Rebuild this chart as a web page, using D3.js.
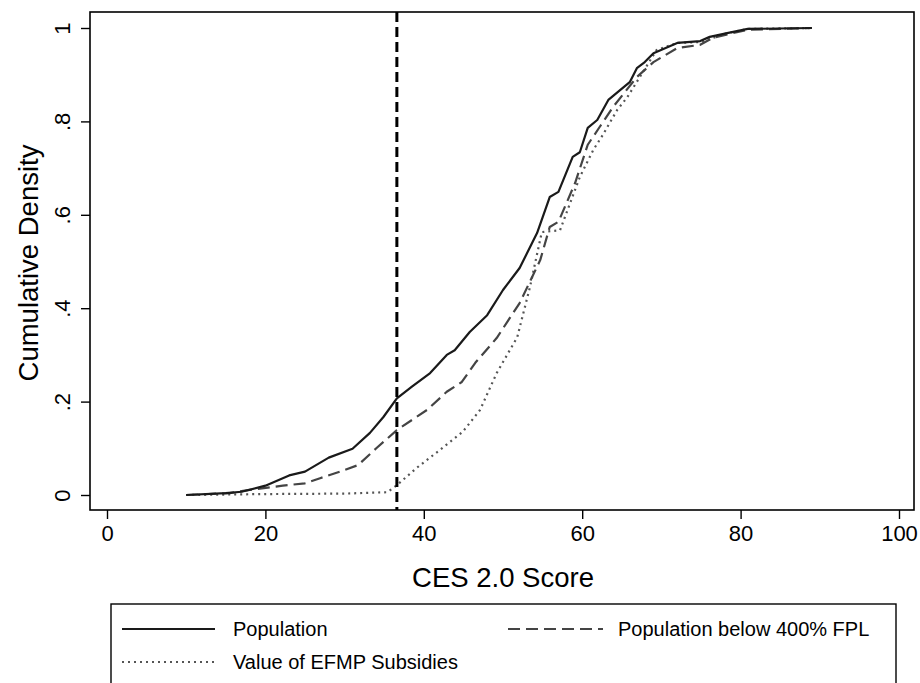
<!DOCTYPE html>
<html>
<head>
<meta charset="utf-8">
<script src="https://cdn.jsdelivr.net/npm/d3@7"></script>
<style>
  body { margin: 0; background: #fff; }
  text { font-family: "Liberation Sans", Arial, sans-serif; fill: #000; }
</style>
</head>
<body>
<script>
// CES 2.0 score vs cumulative density
var popX   = [10, 15, 17, 20, 23, 25, 28, 31, 33.2, 34.9, 36.6, 38.5, 40.8, 42.9, 43.9, 45.8, 48, 50, 52.1, 54.3, 55.9, 57, 58.8, 59.7, 60.7, 61.9, 63.3, 66, 66.9, 67.9, 69, 72, 74.9, 76.1, 78.3, 80.9, 89];
var popY   = [0, 0.004, 0.007, 0.02, 0.042, 0.05, 0.08, 0.099, 0.133, 0.167, 0.207, 0.232, 0.261, 0.30, 0.31, 0.349, 0.385, 0.439, 0.486, 0.561, 0.638, 0.649, 0.724, 0.734, 0.786, 0.803, 0.846, 0.884, 0.914, 0.927, 0.946, 0.968, 0.972, 0.981, 0.989, 0.998, 1];

var fplX   = [10, 15.5, 18, 22.2, 25, 26.9, 29.4, 31.7, 34, 36.6, 40.4, 42.9, 44.8, 46.5, 49.2, 52.1, 54.7, 55.9, 57, 59.1, 60.7, 62.2, 63.9, 66.9, 69, 72, 74.9, 76.5, 80.8, 89];
var fplY   = [0, 0.004, 0.011, 0.02, 0.025, 0.036, 0.05, 0.064, 0.10, 0.139, 0.182, 0.221, 0.242, 0.283, 0.336, 0.411, 0.503, 0.574, 0.585, 0.668, 0.75, 0.788, 0.831, 0.895, 0.927, 0.957, 0.964, 0.979, 0.996, 1];

var efmpX  = [10, 20, 30, 35.4, 36.6, 39.1, 42, 44.9, 47.1, 49.2, 51.8, 53.4, 54.9, 57.2, 59.7, 61.4, 62.6, 64.4, 65.7, 69.4, 72, 75, 78.3, 80.9, 89];
var efmpY  = [0, 0.002, 0.003, 0.006, 0.021, 0.058, 0.096, 0.135, 0.182, 0.261, 0.338, 0.445, 0.563, 0.567, 0.681, 0.739, 0.771, 0.824, 0.852, 0.953, 0.968, 0.97, 0.989, 0.998, 1];

var cutoff = 36.6;

var xTicks = [0, 20, 40, 60, 80, 100];
var yTicks = [0, 0.2, 0.4, 0.6, 0.8, 1];
var yTickLabels = ["0", ".2", ".4", ".6", ".8", "1"];

var legendNames = ["Population", "Population below 400% FPL", "Value of EFMP Subsidies"];

var svg = d3.select('body').append('svg')
    .attr('width', 920)
    .attr('height', 683);

var x = d3.scaleLinear().domain([0, 100]).range([107, 899]);
var y = d3.scaleLinear().domain([0, 1]).range([495, 28]);

// plot frame
svg.append('rect')
    .attr('x', 90)
    .attr('y', 12)
    .attr('width', 824)
    .attr('height', 498)
    .attr('fill', 'none')
    .attr('stroke', '#000')
    .attr('stroke-width', 1.6);

// axes
var yAxis = svg.append('g')
    .attr('transform', 'translate(90,0)')
    .call(d3.axisLeft(y).tickValues(yTicks).tickSize(9).tickPadding(8)
        .tickFormat(function(d, i) { return yTickLabels[i]; }));
yAxis.select('.domain').remove();
yAxis.selectAll('line').attr('stroke', '#000').attr('stroke-width', 1.4);
yAxis.selectAll('text')
    .attr('font-size', 22)
    .attr('text-anchor', 'middle')
    .attr('x', null)
    .attr('transform', 'translate(-28,0) rotate(-90)')
    .attr('dy', '0.35em');

var xAxis = svg.append('g')
    .attr('transform', 'translate(0,510)')
    .call(d3.axisBottom(x).tickValues(xTicks).tickSize(9).tickPadding(6)
        .tickFormat(d3.format('d')));
xAxis.select('.domain').remove();
xAxis.selectAll('line').attr('stroke', '#000').attr('stroke-width', 1.4);
xAxis.selectAll('text').attr('font-size', 22);

// axis titles
svg.append('text')
    .attr('x', 503)
    .attr('y', 587)
    .attr('text-anchor', 'middle')
    .attr('font-size', 27.5)
    .text('CES 2.0 Score');

svg.append('text')
    .attr('transform', 'translate(38,263) rotate(-90)')
    .attr('text-anchor', 'middle')
    .attr('font-size', 27.5)
    .text('Cumulative Density');

// curves
var line = d3.line()
    .x(function(d) { return x(d[0]); })
    .y(function(d) { return y(d[1]); });

var series = [
    { xs: efmpX, ys: efmpY, color: '#555', dash: '2,4', w: 2.2 },
    { xs: fplX, ys: fplY, color: '#444', dash: '12,6', w: 2.2 },
    { xs: popX, ys: popY, color: '#1a1a1a', dash: null, w: 2.2 }
];

series.forEach(function(s) {
    svg.append('path')
        .datum(d3.zip(s.xs, s.ys))
        .attr('d', line)
        .attr('fill', 'none')
        .attr('stroke', s.color)
        .attr('stroke-width', s.w)
        .attr('stroke-dasharray', s.dash)
        .attr('stroke-linejoin', 'round');
});

// cutoff line
svg.append('line')
    .attr('x1', x(cutoff))
    .attr('x2', x(cutoff))
    .attr('y1', 12)
    .attr('y2', 510)
    .attr('stroke', '#000')
    .attr('stroke-width', 3)
    .attr('stroke-dasharray', '10,5');

// legend
svg.append('rect')
    .attr('x', 111)
    .attr('y', 604)
    .attr('width', 785)
    .attr('height', 100)
    .attr('fill', 'none')
    .attr('stroke', '#000')
    .attr('stroke-width', 1.4);

var legendPos = [
    { x1: 122, x2: 215, tx: 233, ty: 629, color: '#1a1a1a', dash: null },
    { x1: 508, x2: 603, tx: 618, ty: 629, color: '#444', dash: '12,6' },
    { x1: 122, x2: 215, tx: 233, ty: 662, color: '#555', dash: '2,4' }
];

legendPos.forEach(function(p, i) {
    svg.append('line')
        .attr('x1', p.x1)
        .attr('x2', p.x2)
        .attr('y1', p.ty)
        .attr('y2', p.ty)
        .attr('stroke', p.color)
        .attr('stroke-width', 2)
        .attr('stroke-dasharray', p.dash);
    svg.append('text')
        .attr('x', p.tx)
        .attr('y', p.ty)
        .attr('dy', '0.35em')
        .attr('font-size', 20)
        .text(legendNames[i]);
});
</script>
</body>
</html>
